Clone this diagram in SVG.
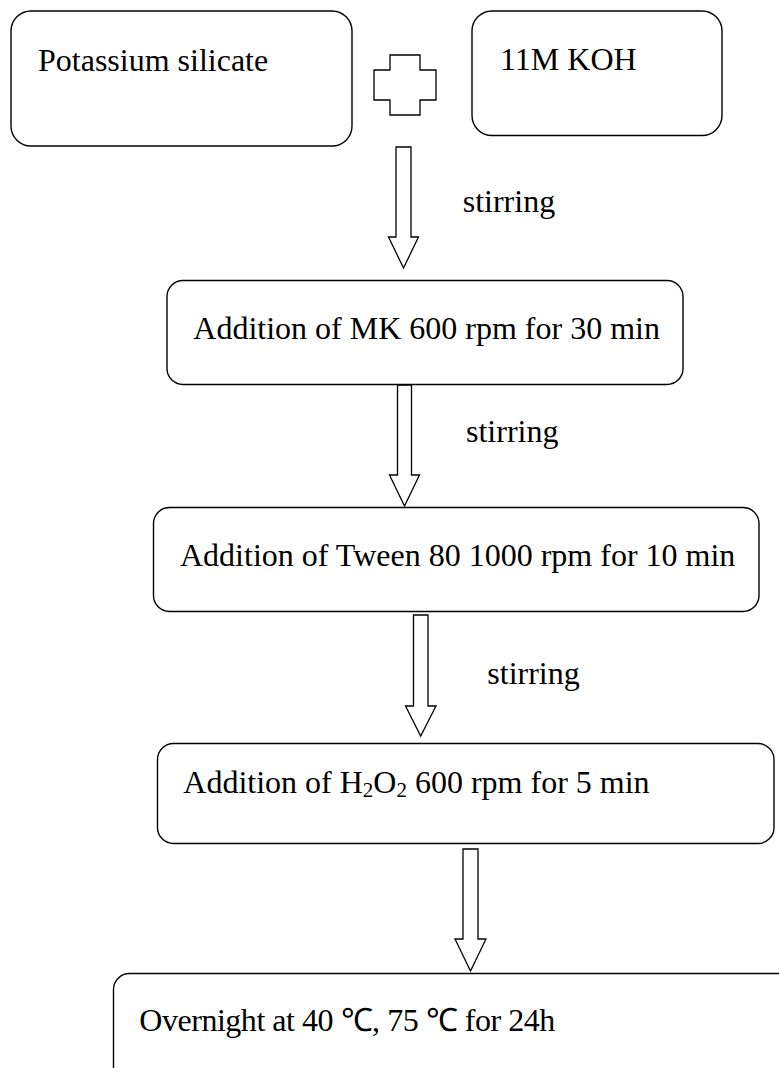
<svg xmlns="http://www.w3.org/2000/svg" width="779" height="1068" viewBox="0 0 779 1068">
<style>
.box{fill:#fff;stroke:#000;stroke-width:1.4}
.arr{fill:#fff;stroke:#000;stroke-width:1.3;stroke-linejoin:miter}
.t{font-family:"Liberation Serif","Times New Roman",serif;font-size:32px;fill:#000}
</style>
<rect width="779" height="1068" fill="#fff"/>
<g id="connectors">
<polygon class="arr" points="396,147 411,147 411,237 418.5,237 403.5,268 388.5,237 396,237"/>
<polygon class="arr" points="397.5,385 411.5,385 411.5,475 419.5,475 404.5,506 389.5,475 397.5,475"/>
<polygon class="arr" points="413.5,615 428,615 428,706 436,706 420.7,736 405.5,706 413.5,706"/>
<polygon class="arr" points="463,849 478,849 478,939 486,939 470.5,971 455,939 463,939"/>
<text class="t" x="462.7" y="212.3">stirring</text>
<text class="t" x="466" y="441.7">stirring</text>
<text class="t" x="487.3" y="684">stirring</text>
</g>
<g id="plus">
<polygon class="arr" points="390,55 420,55 420,70 436,70 436,100 420,100 420,115 390,115 390,100 374,100 374,70 390,70"/>
</g>
<g id="n1">
<rect class="box" x="11" y="11" width="341" height="135" rx="20"/>
<text class="t" x="38" y="71">Potassium silicate</text>
</g>
<g id="n2">
<rect class="box" x="472" y="11" width="250" height="124.5" rx="20"/>
<text class="t" x="500" y="70">11M KOH</text>
</g>
<g id="n3">
<rect class="box" x="167" y="280.5" width="516" height="104" rx="16"/>
<text class="t" x="193.3" y="339">Addition of MK 600 rpm for 30 min</text>
</g>
<g id="n4">
<rect class="box" x="153.5" y="507.5" width="605.5" height="104" rx="16"/>
<text class="t" x="180" y="565.7">Addition of Tween 80 1000 rpm for 10 min</text>
</g>
<g id="n5">
<rect class="box" x="157.5" y="743.5" width="616.5" height="100" rx="16"/>
<text class="t" x="183.3" y="792.7">Addition of H<tspan font-size="21" dy="4">2</tspan><tspan dy="-4">O</tspan><tspan font-size="21" dy="4">2</tspan><tspan dy="-4"> 600 rpm for 5 min</tspan></text>
</g>
<g id="n6">
<rect class="box" x="113.5" y="973.5" width="720" height="160" rx="16"/>
<text class="t" x="139.3" y="1030.5" textLength="416" lengthAdjust="spacing">Overnight at 40 ℃, 75 ℃ for 24h</text>
</g>
</svg>
